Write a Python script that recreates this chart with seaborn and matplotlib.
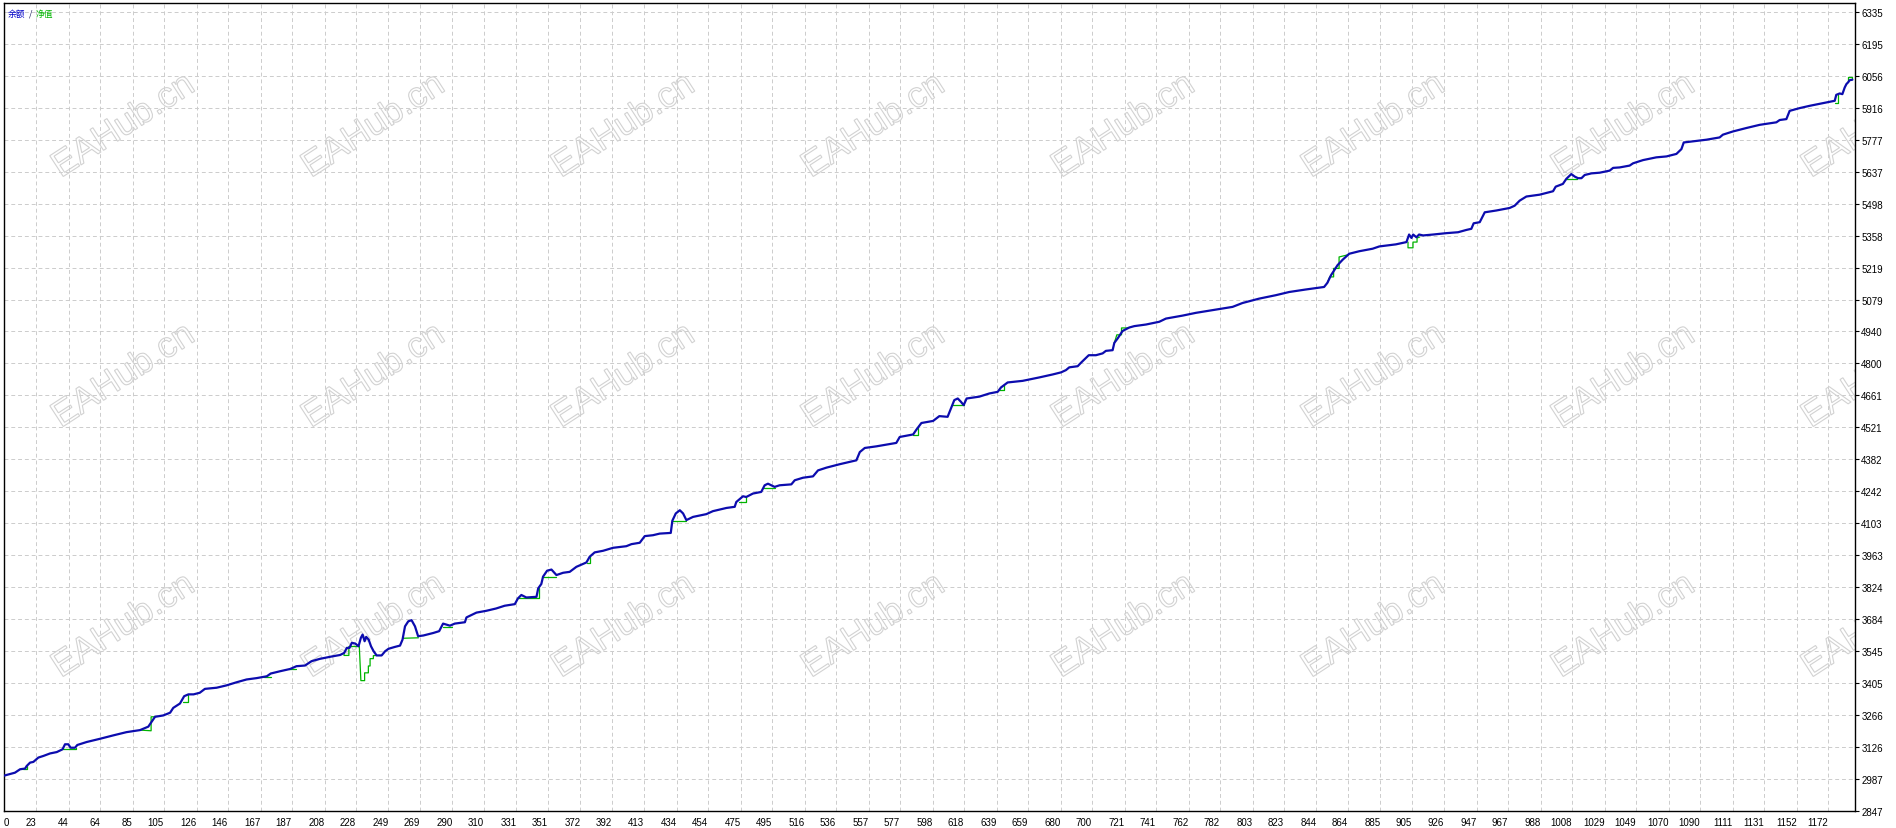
import numpy as np
import pandas as pd
import seaborn as sns
import matplotlib
matplotlib.use("Agg")
import matplotlib.pyplot as plt
from matplotlib.textpath import TextPath
from matplotlib.patches import PathPatch
from matplotlib.font_manager import FontProperties
from matplotlib.transforms import Affine2D, IdentityTransform

# ---- data ----
# balance curve (trade number, account value)
bal_trade = [2.5, 3, 9.5, 12.8, 16, 17, 19.2, 21.3, 24.5, 27.7, 32, 36.3, 40, 41.6, 43.7, 45.2, 48, 49.5,
             55.5, 64, 72.6, 81, 89.7, 95, 97, 99.3, 104.6, 109, 111, 115.3, 118, 120.7, 124, 128, 131.3,
             138.8, 145, 151.7, 158, 164.5, 171, 173.5, 179.5, 186, 190, 195.5, 199.7, 205, 211.5, 218,
             220.6, 222.3, 224, 225.5, 227.7, 229.8, 231.3, 232.4, 233.7, 234.7, 236.3, 237.8, 239.5, 241.4,
             244.6, 246.8, 249, 253, 256.4, 258, 259.6, 261.7, 263.8, 266, 268, 271.3, 277.7, 281.5, 284,
             288.4, 291.5, 298,
             299, 302, 305.4, 311.8, 318, 323.5, 330, 332, 334.2, 337.4, 343.9, 345, 347, 348.1, 350.7,
             353.5, 356.7, 361, 365.2, 369.5, 375.9, 378, 381.2, 386.6, 393, 401.5, 404.8, 410.1, 413.3,
             418.6, 422.9, 430, 431, 433.2, 435.8, 437.9, 440, 444.3, 452.8, 457, 465.7, 471, 472, 476.3,
             478.4, 482.7, 488, 490.2, 492.3, 496.6, 499.8, 507.3, 509.5, 514.8, 521.2, 524.4, 529.8, 538.3,
             549, 551.2, 554.4, 561.8, 574.6, 576.8, 585.4, 587.5, 590.7, 598.2,
             602.2, 607.5, 609.7, 611.8, 614, 616, 617.8, 619.7, 627.8, 634.3, 639.6, 641.7, 646, 655.6,
             666.3, 674.9, 680.2, 683.4, 685.5, 690.9, 693, 698, 702.6, 706.9, 709, 713.3, 714.4, 716.5,
             719.7, 724, 727.2, 734.7, 743.2, 747.5, 758.2, 766.7, 779.5, 790.2, 796.6, 807.2, 817.9, 826.5,
             837.2, 848.9, 851, 853.3, 855.4, 857.5, 860.8, 865, 871.4, 880, 884.3, 894.9,
             901.7, 903.4, 904.9, 906, 908.1, 909.8, 912.4, 918.8, 927.3, 934.8, 940.1, 943.3, 944.8, 948.7,
             951.9, 959.4, 967.9, 971.1, 974.3, 978.6, 987.1, 995.7, 997.4, 1002, 1004.2, 1007.4, 1009.6,
             1011.7, 1013.9, 1016, 1020.3, 1025.6, 1032, 1034.2, 1038.4, 1044.8, 1047, 1053.4, 1061.9,
             1068.4, 1074.8, 1078, 1079.5, 1085.4, 1094, 1102.5, 1104.6, 1111, 1119.6, 1128.2, 1138.9, 1141,
             1145.3, 1147.4, 1153.8, 1160.2, 1168.8, 1176.3, 1177.3, 1179.5, 1181.2, 1182.7, 1183.8, 1184.8,
             1185.9, 1187.6]
bal_value = [3000, 3001, 3013, 3028, 3031, 3042, 3057, 3060, 3079, 3086, 3097, 3103, 3115, 3137, 3137, 3122, 3122, 3134,
             3147, 3161, 3176, 3190, 3199, 3214, 3234, 3257, 3263, 3275, 3296, 3315, 3347, 3355, 3355, 3362, 3379,
             3384, 3394, 3408, 3420, 3426, 3434, 3446, 3456, 3466, 3478, 3481, 3500, 3510, 3519, 3527,
             3536, 3558, 3558, 3580, 3577, 3565, 3602, 3616, 3587, 3606, 3594, 3565, 3543, 3525,
             3525, 3543, 3554, 3562, 3568, 3594, 3652, 3674, 3679, 3652, 3609, 3612, 3623, 3631, 3664,
             3655, 3664, 3670,
             3691, 3701, 3712, 3720, 3730, 3742, 3749, 3774, 3789, 3778, 3781, 3818, 3837, 3869, 3895,
             3900, 3876, 3886, 3890, 3912, 3931, 3956, 3975, 3982, 3995, 4002, 4011, 4017, 4046,
             4050, 4057, 4060, 4113, 4145, 4159, 4145, 4116, 4130, 4142, 4155, 4169, 4174, 4195, 4220,
             4217, 4232, 4239, 4268, 4275, 4261, 4268, 4272, 4290, 4301, 4307, 4333, 4345, 4360,
             4377, 4413, 4431, 4438, 4453, 4479, 4490, 4511, 4540, 4549,
             4570, 4567, 4604, 4640, 4647, 4633, 4618, 4647, 4655, 4669, 4676, 4695, 4717, 4724,
             4739, 4752, 4761, 4771, 4783, 4788, 4803, 4836, 4836, 4844, 4855, 4858, 4890, 4909,
             4942, 4957, 4963, 4970, 4982, 4996, 5009, 5021, 5035, 5047, 5064, 5083, 5098, 5112,
             5123, 5134, 5152, 5185, 5207, 5229, 5253, 5279, 5290, 5301, 5311, 5320,
             5330, 5363, 5348, 5363, 5351, 5363, 5359, 5363, 5369, 5373, 5383, 5388, 5412, 5417,
             5460, 5468, 5479, 5489, 5511, 5529, 5537, 5552, 5572, 5584, 5606, 5627, 5616,
             5609, 5609, 5623, 5630, 5633, 5642, 5654, 5656, 5664, 5674, 5688, 5700,
             5704, 5715, 5736, 5765, 5770, 5777, 5787, 5799, 5813, 5828, 5842, 5853, 5863,
             5867, 5903, 5915, 5925, 5937, 5947, 5973, 5979, 5976, 6005, 6020, 6027,
             6037, 6039]

# equity where it leaves the balance line (one id per drawdown episode)
eq_episode = [1, 1, 1, 2, 2, 2, 3, 3, 3, 3, 4, 4, 4, 6, 6, 7, 7,
              8, 8, 8, 8, 8, 8, 8, 8, 8, 8, 8, 8, 8, 8, 8,
              9, 9, 10, 10, 11, 11, 11, 12, 12, 13, 13, 13, 14, 14, 15, 15, 15, 16, 16,
              17, 17, 17, 18, 18, 19, 19, 19, 20, 20, 20, 20, 20, 20,
              21, 21, 21, 21, 21, 21, 21, 22, 22, 22, 22, 22, 22, 22, 23, 23, 24, 24, 24,
              25, 25, 25, 25]
eq_trade = [14.5, 17.5, 17.5, 40.5, 48.6, 48.6, 89.7, 96.8, 96.8, 99.3, 117.5, 120.5, 120.5, 169, 173.5, 185, 189.5,
            220.5, 220.5, 223.6, 223.6, 230.3, 231.3, 233.7, 233.7, 236.1, 236.1, 237.2, 237.2, 239.3, 239.3, 241.4,
            258.5, 268.2, 283.8, 290, 331.5, 345.5, 345.5, 348.1, 356.7, 376, 378.5, 378.5, 431, 440, 474, 478.4,
            478.4, 489.5, 496.6,
            585.4, 588.5, 588.5, 610.5, 617.8, 640.6, 643.9, 643.9, 714.4, 716, 719, 719, 722, 724,
            851, 852.5, 855, 855, 858.5, 858.5, 864.5, 902.7, 902.7, 905.9, 905.9, 908.5, 908.5, 910.2,
            1004.2, 1011, 1176.3, 1178.6, 1178.6,
            1184.8, 1184.8, 1187.6, 1187.6]
eq_value = [3030, 3030, 3043, 3118, 3118, 3122, 3199, 3196, 3257, 3257, 3320, 3320, 3352, 3432, 3432, 3464, 3464,
            3536, 3525, 3525, 3564, 3564, 3415, 3415, 3449, 3449, 3479, 3479, 3511, 3511, 3524, 3525,
            3600, 3602, 3650, 3650, 3774, 3774, 3820, 3869, 3869, 3930, 3930, 3960, 4113, 4113, 4195, 4195,
            4217, 4258, 4258,
            4486, 4486, 4520, 4618, 4618, 4684, 4684, 4705, 4890, 4925, 4925, 4955, 4955, 4957,
            5152, 5178, 5178, 5215, 5215, 5265, 5275, 5330, 5305, 5305, 5330, 5330, 5348, 5352,
            5606, 5606, 5937, 5937, 5975,
            6027, 6052, 6052, 6040]

x_labels = [0, 23, 44, 64, 85, 105, 126, 146, 167, 187, 208, 228, 249, 269, 290, 310, 331, 351, 372, 392,
            413, 434, 454, 475, 495, 516, 536, 557, 577, 598, 618, 639, 659, 680, 700, 721, 741, 762, 782, 803,
            823, 844, 864, 885, 905, 926, 947, 967, 988, 1008, 1029, 1049, 1070, 1090, 1111, 1131, 1152, 1172]
y_labels = [2847, 2987, 3126, 3266, 3405, 3545, 3684, 3824, 3963, 4103, 4242, 4382, 4521, 4661, 4800,
            4940, 5079, 5219, 5358, 5498, 5637, 5777, 5916, 6056, 6195, 6335]

BAL_COLOR = "#0c0cae"
EQ_COLOR = "#00b400"
GRID_COLOR = "#cccccc"

W, H, DPI = 1896, 829, 100

sns.set_style("white")
plt.rcParams["font.family"] = ["Liberation Sans", "Noto Sans CJK SC", "DejaVu Sans"]

fig = plt.figure(figsize=(W / DPI, H / DPI), dpi=DPI)
fig.patch.set_facecolor("white")
ax = fig.add_axes([4 / W, (H - 811.7) / H, (1855 - 4) / W, (811.7 - 4) / H])

x_lo, x_hi = 2.48, 1189.3
y_lo, y_hi = 2847, 6374

ax.set_axisbelow(True)
ax.grid(True, color=GRID_COLOR, linestyle=(0, (4, 3)), linewidth=0.7)

# watermark, outline only, clipped to the plot area
wm_prop = FontProperties(family="Liberation Sans")
for j in range(3):
    for i in range(8):
        tp = TextPath((0, 0), "EAHub.cn", size=36, prop=wm_prop)
        ext = tp.get_extents()
        cx, cy = (ext.x0 + ext.x1) / 2, (ext.y0 + ext.y1) / 2
        tr = Affine2D().translate(-cx, -cy).rotate_deg(33).translate(122 + 250 * i, H - (124 + 250 * j))
        patch = PathPatch(tr.transform_path(tp), facecolor="none", edgecolor="#d2d2d2",
                          linewidth=0.8, transform=IdentityTransform(), zorder=1)
        ax.add_artist(patch)
        patch.set_clip_path(ax.patch)

eq_df = pd.DataFrame({"trade": eq_trade, "value": eq_value, "episode": eq_episode})
bal_df = pd.DataFrame({"trade": bal_trade, "value": bal_value})

sns.lineplot(data=eq_df, x="trade", y="value", units="episode", estimator=None, sort=False,
             color=EQ_COLOR, linewidth=0.9, ax=ax, zorder=3)
sns.lineplot(data=bal_df, x="trade", y="value", estimator=None, sort=False,
             color=BAL_COLOR, linewidth=1.6, ax=ax, zorder=4)

ax.set_xlim(x_lo, x_hi)
ax.set_ylim(y_lo, y_hi)
ax.set_xlabel("")
ax.set_ylabel("")

x_pos = [x_lo] + x_labels[1:]
ax.set_xticks(x_pos)
ax.set_xticklabels([str(v) for v in x_labels])
ax.set_yticks(y_labels)
ax.set_yticklabels([str(v) for v in y_labels])
ax.yaxis.tick_right()
ax.tick_params(axis="both", direction="out", length=3, width=0.8, color="black",
               labelsize=7, labelcolor="black", pad=1.5)
for i, lab in enumerate(ax.get_xticklabels()):
    lab.set_ha("left" if i == 0 else "right")

for side in ["left", "right", "top", "bottom"]:
    ax.spines[side].set_visible(True)
    ax.spines[side].set_color("black")
    ax.spines[side].set_linewidth(1.0)

# legend in the corner, as the terminal draws it
cjk = ["Noto Sans CJK SC", "DejaVu Sans"]
fig.text(8 / W, 1 - 14 / H, "余额", color="#0000c8", fontsize=6.3, family=cjk, va="center", ha="left")
fig.text(29 / W, 1 - 14 / H, "/", color="#202060", fontsize=6.3, family=cjk, va="center", ha="left")
fig.text(36 / W, 1 - 14 / H, "净值", color="#00b400", fontsize=6.3, family=cjk, va="center", ha="left")

fig.savefig("out.png", dpi=DPI)
